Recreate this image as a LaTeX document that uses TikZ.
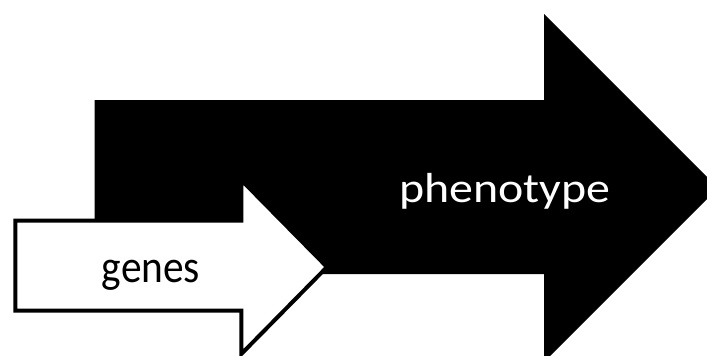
\documentclass[tikz,border=0pt]{standalone}
\usepackage{fontspec}
\setmainfont{Carlito}
\begin{document}
\begin{tikzpicture}[x=1pt,y=-1pt,
  bigarrow/.style={fill=black,draw=none},
  smallarrow/.style={fill=white,draw=black,line width=4pt,line join=miter},
  label/.style={anchor=base,inner sep=0pt}]
  \useasboundingbox (0,0) rectangle (707,356);
  \fill[white] (0,0) rectangle (707,356);
  \begin{scope}
    \clip (0,0) rectangle (707,356);
    % large black arrow
    \path[bigarrow] (94.7,100) -- (544,100) -- (544,14) -- (718,188)
      -- (544,362) -- (544,274) -- (94.7,274) -- cycle;
    % smaller outlined white arrow in front
    \path[smallarrow] (15.3,220.5) -- (241.3,220.5) -- (241.3,180) -- (327,267)
      -- (241.3,354) -- (241.3,310.5) -- (15.3,310.5) -- cycle;
  \end{scope}
  \node[label,text=white,font=\fontsize{42}{46}\selectfont] (pheno) at (505,202.3)
    {\scalebox{1.14}[1]{phenotype}};
  \node[label,font=\fontsize{46}{50}\selectfont] (genes) at (151,282)
    {\scalebox{0.9}[1]{genes}};
\end{tikzpicture}
\end{document}
